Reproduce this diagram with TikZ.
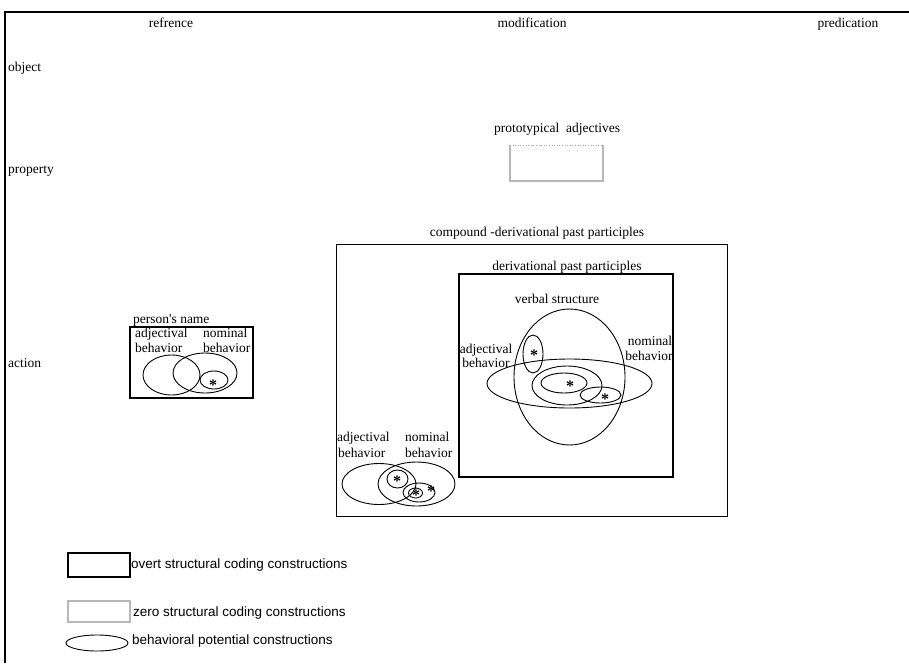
\documentclass[tikz,border=0pt]{standalone}
\usepackage{fontspec}
\setmainfont{Liberation Serif}
\newfontfamily\legendfont{Liberation Sans}
\begin{document}
\begin{tikzpicture}[x=1pt,y=-1pt,
  lbl/.style={inner sep=0pt, anchor=base, font=\fontsize{13.5}{15}\selectfont},
  lblw/.style={lbl, anchor=base west},
  leg/.style={inner sep=0pt, anchor=base west, font=\legendfont\fontsize{13.5}{15}\selectfont},
  star/.style={inner sep=0pt, font=\bfseries\fontsize{16}{16}\selectfont},
  frame/.style={line width=1.5pt},
  thinbox/.style={draw, line width=1pt},
  midbox/.style={draw, line width=1.5pt},
  thickbox/.style={draw, line width=2pt},
  zerobox/.style={draw=black!28, line width=1.5pt},
  zerotop/.style={draw=black!35, line width=0.6pt, dotted},
  ell/.style={draw, line width=0.9pt}
]
\useasboundingbox (0,0) rectangle (909,667);
\fill[white] (0,0) rectangle (909,667);

% frame
\draw[frame] (909,12) -- (5,12) -- (5,663);

% column and row headers
\node[lbl] (hRef) at (171,27) {refrence};
\node[lbl] (hMod) at (532,27) {modification};
\node[lbl] (hPred) at (848,27) {predication};
\node[lblw] (rObj) at (8,71) {object};
\node[lblw] (rProp) at (8,173) {property};
\node[lblw] (rAct) at (8,367) {action};

% prototypical adjectives
\node[lbl] (protoLbl) at (557,132) {prototypical\ \ adjectives};
\draw[zerobox] (510,145) -- (510,181) -- (603,181) -- (603,145);
\draw[zerotop] (510,145) -- (603,145);

% person's name
\node[lblw] (pnLbl) at (133,323) {person\textquotesingle s name};
\draw[midbox] (130,327) rectangle (253,398);
\node[lblw] (pnAdj1) at (135,337) {adjectival};
\node[lblw] (pnAdj2) at (135,352) {behavior};
\node[lblw] (pnNom1) at (203,337) {nominal};
\node[lblw] (pnNom2) at (203,352) {behavior};
\draw[ell] (171.5,375) ellipse [x radius=28.5, y radius=20];
\draw[ell] (205,373) ellipse [x radius=32, y radius=20];
\draw[ell] (214,380) ellipse [x radius=14, y radius=9];
\node[star] (pnStar) at (213,385) {*};

% compound-derivational past participles
\node[lbl] (cdLbl) at (537,236) {compound -derivational past participles};
\draw[thinbox] (336,244) rectangle (727,516);

% derivational past participles
\node[lbl] (dLbl) at (567,270) {derivational past participles};
\draw[thickbox] (459,274) rectangle (673,477);
\node[lbl] (vsLbl) at (557,303) {verbal structure};
\node[lbl] (dAdj1) at (486,353) {adjectival};
\node[lbl] (dAdj2) at (486,367) {behavior};
\node[lbl] (dNom1) at (650,345) {nominal};
\node[lbl] (dNom2) at (649,360) {behavior};
\draw[ell] (569.5,377) ellipse [x radius=55.5, y radius=68];
\draw[ell] (569.5,383.5) ellipse [x radius=82.5, y radius=24.5];
\draw[ell] (533,354) ellipse [x radius=10, y radius=19];
\draw[ell] (567,385.5) ellipse [x radius=35, y radius=19.5];
\draw[ell] (564,383) ellipse [x radius=23, y radius=10];
\draw[ell] (600.5,395) ellipse [x radius=20.5, y radius=8];
\node[star] (dStarA) at (534,355) {*};
\node[star] (dStarB) at (570,386) {*};
\node[star] (dStarC) at (605,399) {*};

% lower cluster (compound)
\node[lblw] (cAdj1) at (337,441) {adjectival};
\node[lblw] (cAdj2) at (338,457) {behavior};
\node[lblw] (cNom1) at (405,441) {nominal};
\node[lblw] (cNom2) at (405,457) {behavior};
\draw[ell] (379,484) ellipse [x radius=37, y radius=20.5];
\draw[ell] (416.5,484) ellipse [x radius=38.5, y radius=22];
\draw[ell] (397.5,479) ellipse [x radius=10.5, y radius=9];
\draw[ell] (419,492.5) ellipse [x radius=16, y radius=9.5];
\draw[ell] (415.5,493) ellipse [x radius=7, y radius=5];
\node[star] (cStarA) at (397,481) {*};
\node[star] (cStarB) at (416,495) {*};
\node[star] (cStarC) at (431,491) {*};

% legend
\draw[midbox] (68,553) rectangle (130,577);
\node[leg] (legOvert) at (131,568) {overt structural coding constructions};
\draw[zerobox] (68,601) rectangle (130,622);
\node[leg] (legZero) at (133,616) {zero structural coding constructions};
\draw[ell] (97,643) ellipse [x radius=31, y radius=8];
\node[leg] (legBeh) at (132,644) {behavioral potential constructions};
\end{tikzpicture}
\end{document}
